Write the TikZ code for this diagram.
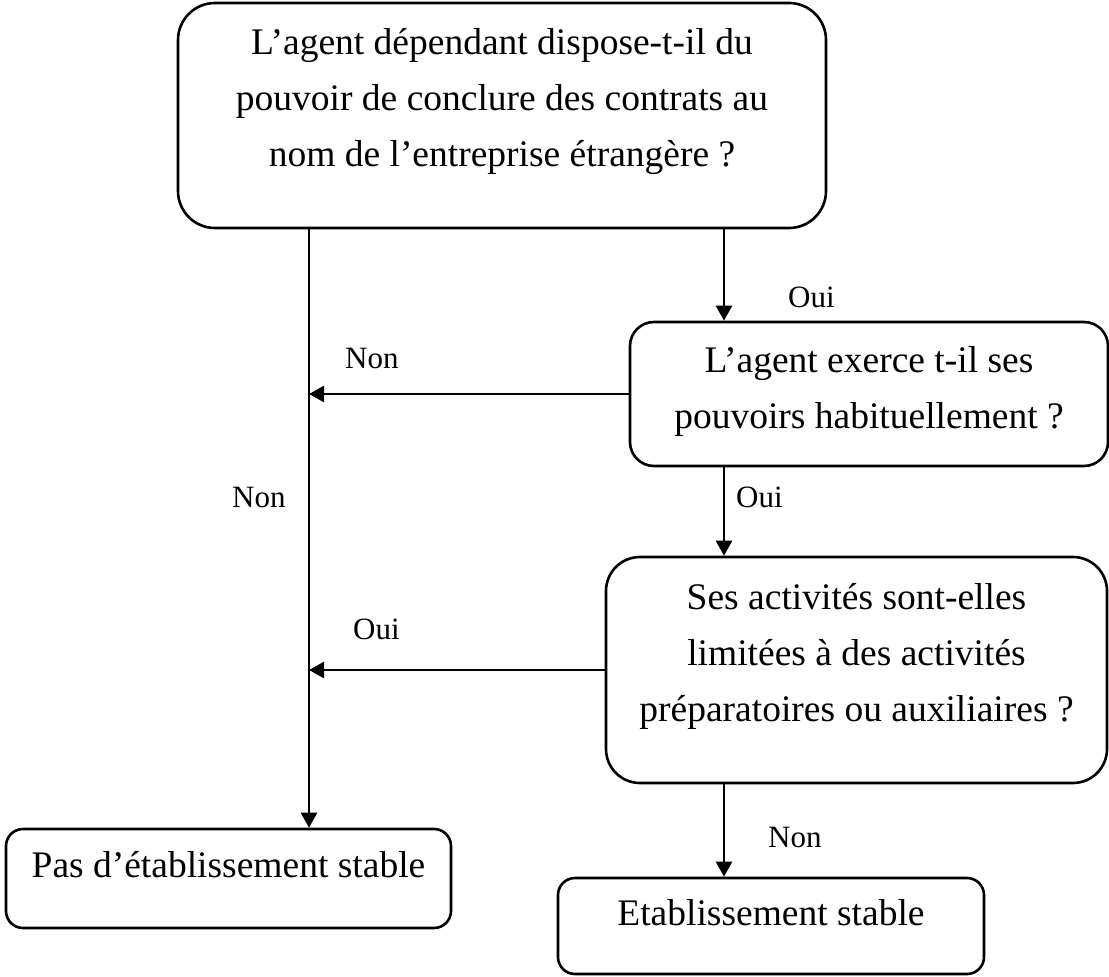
\documentclass[tikz,border=0pt]{standalone}
\usepackage{fontspec}
\setmainfont{Liberation Serif}
\usetikzlibrary{arrows.meta}
% text of a question box: top-aligned lines, first baseline at #3 below the top
\newcommand\qtext[4]{\parbox[c][#2][t]{#1}{\centering\rule{0pt}{#3}#4}}
\begin{document}
\begin{tikzpicture}[x=1pt,y=-1pt,
  qbox/.style={draw, line width=2.6pt, inner sep=0pt, rounded corners=#1,
    font=\fontsize{37.5}{56}\selectfont},
  flow/.style={line width=2.6pt, -{Triangle[length=15pt,width=16pt]}},
  lbl/.style={inner sep=0pt, anchor=base west, font=\fontsize{31}{37}\selectfont},
]
\useasboundingbox (0,0) rectangle (1109,977);

% decision boxes
\node[qbox=37] (b1) at (502,115.5)
  {\qtext{648pt}{225pt}{51pt}{L’agent dépendant dispose-t-il du\\
   pouvoir de conclure des contrats au\\ nom de l’entreprise étrangère ?}};
\node[qbox=24] (b2) at (869,394)
  {\qtext{478pt}{144pt}{50pt}{L’agent exerce t-il ses\\ pouvoirs habituellement ?}};
\node[qbox=34] (b3) at (856.5,670)
  {\qtext{501pt}{226pt}{52pt}{Ses activités sont-elles\\ limitées à des activités\\
   préparatoires ou auxiliaires ?}};

% outcomes
\node[qbox=17] (b4) at (228.5,878.5)
  {\qtext{445pt}{99pt}{48pt}{Pas d’établissement stable}};
\node[qbox=17] (b5) at (771,926)
  {\qtext{426pt}{96pt}{47pt}{Etablissement stable}};

% vertical lines the connectors run along
\coordinate (spine) at (309,500);
\coordinate (trunk) at (724,500);

\draw[flow] (b1.south -| spine) -- (b4.north -| spine);
\draw[flow] (b2.west) -- (b2.west -| spine);
\draw[flow] (b3.west) -- (b3.west -| spine);
\draw[flow] (b1.south -| trunk) -- (b2.north -| trunk);
\draw[flow] (b2.south -| trunk) -- (b3.north -| trunk);
\draw[flow] (b3.south -| trunk) -- (b5.north -| trunk);

% answer labels
\node[lbl] (l1) at (788,307) {Oui};
\node[lbl] (l2) at (345,368) {Non};
\node[lbl] (l3) at (232,507) {Non};
\node[lbl] (l4) at (736,507) {Oui};
\node[lbl] (l5) at (353,639) {Oui};
\node[lbl] (l6) at (768,847) {Non};
\end{tikzpicture}
\end{document}
